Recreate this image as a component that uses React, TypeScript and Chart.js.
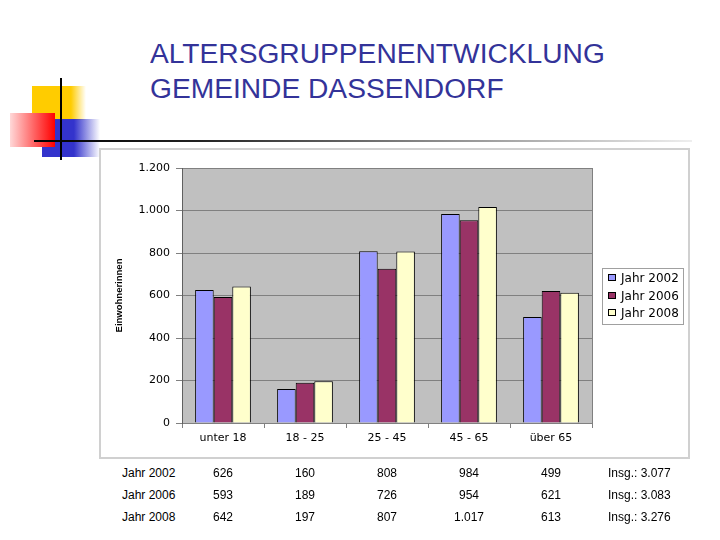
import React, { useEffect, useRef } from "react";
import { Chart, registerables } from "chart.js";

Chart.register(...registerables);

const categories = ["unter 18", "18 - 25", "25 - 45", "45 - 65", "über 65"];
const seriesNames = ["Jahr 2002", "Jahr 2006", "Jahr 2008"];
const values2002 = [626, 160, 808, 984, 499];
const values2006 = [593, 189, 726, 954, 621];
const values2008 = [642, 197, 807, 1017, 613];
const seriesColors = ["#9999FF", "#993366", "#FFFFCC"];
const yTicks = [0, 200, 400, 600, 800, 1000, 1200];
const titleLines = ["ALTERSGRUPPENENTWICKLUNG", "GEMEINDE DASSENDORF"];
const axisTitle = "Einwohnerinnen";

const allSeries = [values2002, values2006, values2008];

const fmt = (n: number) => String(n).replace(/\B(?=(\d{3})+(?!\d))/g, ".");

const plotBg = {
  id: "plotBg",
  beforeDraw(chart: any) {
    const { ctx, chartArea: a } = chart;
    ctx.save();
    ctx.fillStyle = "#C0C0C0";
    ctx.fillRect(a.left, a.top, a.right - a.left, a.bottom - a.top);
    ctx.restore();
  },
  beforeDatasetsDraw(chart: any) {
    const { ctx, chartArea: a } = chart;
    ctx.save();
    ctx.strokeStyle = "#808080";
    ctx.lineWidth = 1;
    ctx.beginPath();
    ctx.moveTo(Math.round(a.right) + 0.5, a.top);
    ctx.lineTo(Math.round(a.right) + 0.5, a.bottom);
    ctx.stroke();
    ctx.restore();
  },
};

const boxLegend = {
  id: "boxLegend",
  afterDraw(chart: any) {
    const { ctx, chartArea: a } = chart;
    const ds = chart.data.datasets;
    const w = 81;
    const rowH = 17.5;
    const h = 56;
    const x = Math.round(a.right) + 10;
    const y = Math.round((a.top + a.bottom) / 2 - h / 2);
    ctx.save();
    ctx.fillStyle = "#FFFFFF";
    ctx.fillRect(x, y, w, h);
    ctx.strokeStyle = "#A0A0A0";
    ctx.lineWidth = 1;
    ctx.strokeRect(x + 0.5, y + 0.5, w, h);
    ctx.font = "12px 'DejaVu Sans'";
    ctx.textBaseline = "middle";
    ds.forEach((d: any, i: number) => {
      const cy = y + 10 + i * rowH;
      ctx.fillStyle = d.backgroundColor;
      ctx.fillRect(x + 6, Math.round(cy - 4), 8, 7);
      ctx.strokeStyle = "#000";
      ctx.strokeRect(x + 6.5, Math.round(cy - 4) + 0.5, 7, 6);
      ctx.fillStyle = "#000";
      ctx.fillText(d.label, x + 19, cy + 1);
    });
    ctx.restore();
  },
};

function BarChart() {
  const ref = useRef<HTMLCanvasElement | null>(null);
  useEffect(() => {
    if (!ref.current) return;
    const chart = new Chart(ref.current, {
      type: "bar",
      data: {
        labels: categories,
        datasets: allSeries.map((vals, i) => ({
          label: seriesNames[i],
          data: vals,
          backgroundColor: seriesColors[i],
          borderColor: "#000000",
          borderWidth: 1,
          barPercentage: 1,
          categoryPercentage: 0.68,
        })),
      },
      options: {
        animation: false,
        responsive: false,
        maintainAspectRatio: false,
        layout: { padding: { left: 14, top: 18, right: 96, bottom: 0 } },
        plugins: { legend: { display: false }, tooltip: { enabled: false } },
        scales: {
          x: {
            grid: {
              display: true,
              drawOnChartArea: false,
              drawTicks: true,
              tickLength: 5,
              color: "#808080",
              offset: true,
            },
            border: { color: "#808080" },
            ticks: {
              font: { family: "DejaVu Sans", size: 11 },
              color: "#000",
              padding: 4,
              maxRotation: 0,
            },
            afterFit: (s: any) => {
              s.height = 35;
            },
          },
          y: {
            min: 0,
            max: 1200,
            afterBuildTicks: (s: any) => {
              s.ticks = yTicks.map((v) => ({ value: v }));
            },
            ticks: {
              callback: (v: any) => fmt(Number(v)),
              font: { family: "DejaVu Sans", size: 11 },
              color: "#000",
              padding: 6,
            },
            grid: { color: "#808080", tickLength: 6 },
            border: { color: "#606060" },
            title: {
              display: true,
              text: axisTitle,
              font: { family: "Liberation Sans", size: 9.5, weight: "bold" },
              color: "#000",
              padding: 0,
            },
            afterFit: (s: any) => {
              s.width = 68;
            },
          },
        },
      },
      plugins: [plotBg, boxLegend],
    });
    return () => chart.destroy();
  }, []);
  return (
    <canvas
      ref={ref}
      width={588}
      height={308}
      style={{ position: "absolute", left: 100, top: 150, width: 588, height: 308 }}
    />
  );
}

const colX = [223, 305, 387, 469, 551];
const rowCenters = [473, 495, 517];

export default function App() {
  const tableFont = { fontFamily: "'Liberation Sans', Arial, sans-serif", fontSize: 12, color: "#000" };
  return (
    <div
      style={{
        position: "absolute",
        left: 0,
        top: 0,
        width: 720,
        height: 540,
        background: "#fff",
        overflow: "hidden",
      }}
    >
      {/* decoration */}
      <div
        style={{
          position: "absolute",
          left: 32,
          top: 86,
          width: 54,
          height: 34,
          background: "linear-gradient(to right, #FFCC00 0%, #FFCC00 72%, rgba(255,204,0,0) 100%)",
        }}
      />
      <div
        style={{
          position: "absolute",
          left: 42,
          top: 119,
          width: 58,
          height: 38,
          background: "linear-gradient(to right, #3333CC 0%, #3333CC 55%, rgba(51,51,204,0) 100%)",
        }}
      />
      <div
        style={{
          position: "absolute",
          left: 10,
          top: 113,
          width: 45,
          height: 34,
          background: "linear-gradient(to right, #FFD8D8 0%, #FF6060 55%, #FF0000 100%)",
        }}
      />
      <div style={{ position: "absolute", left: 60, top: 78, width: 2, height: 82, background: "#000" }} />
      <div
        style={{
          position: "absolute",
          left: 34,
          top: 140,
          width: 658,
          height: 2,
          background: "linear-gradient(to right, #000 0%, #222 25%, #888 60%, #eee 100%)",
        }}
      />
      {/* title */}
      <div
        style={{
          position: "absolute",
          left: 150,
          top: 37,
          fontFamily: "'Liberation Sans', Arial, sans-serif",
          fontSize: 27,
          lineHeight: "35px",
          color: "#333399",
          whiteSpace: "nowrap",
          transform: "scaleX(1.043)",
          transformOrigin: "left top",
        }}
      >
        {titleLines.map((t) => (
          <div key={t}>{t}</div>
        ))}
      </div>
      {/* chart */}
      <BarChart />
      <div
        style={{
          position: "absolute",
          left: 99,
          top: 148,
          width: 591,
          height: 311,
          border: "2px solid #D0D0D0",
          boxSizing: "border-box",
          pointerEvents: "none",
        }}
      />
      {/* table */}
      {allSeries.map((vals, r) => {
        const top = rowCenters[r] - 11;
        const total = vals.reduce((a, b) => a + b, 0);
        return (
          <React.Fragment key={r}>
            <div style={{ ...tableFont, position: "absolute", left: 122, top, lineHeight: "22px" }}>
              {seriesNames[r]}
            </div>
            {vals.map((v, c) => (
              <div
                key={c}
                style={{
                  ...tableFont,
                  position: "absolute",
                  left: colX[c] - 30,
                  width: 60,
                  textAlign: "center",
                  top,
                  lineHeight: "22px",
                }}
              >
                {fmt(v)}
              </div>
            ))}
            <div style={{ ...tableFont, position: "absolute", left: 608, top, lineHeight: "22px", whiteSpace: "nowrap" }}>
              {"Insg.: " + fmt(total)}
            </div>
          </React.Fragment>
        );
      })}
    </div>
  );
}
